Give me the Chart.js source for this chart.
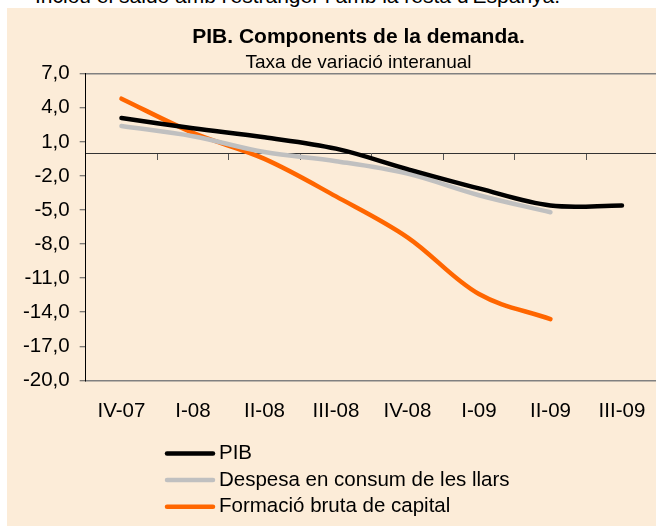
<!DOCTYPE html>
<html>
<head>
<meta charset="utf-8">
<script src="https://cdn.jsdelivr.net/npm/chart.js@4.4.1/dist/chart.umd.min.js"></script>
<style>
    html, body { margin: 0; padding: 0; width: 656px; height: 526px; overflow: hidden; background: #ffffff; }
    #nota { position: absolute; left: 35px; top: -16px; font: 21px "Liberation Sans", Arial, sans-serif; color: #000; white-space: nowrap; }
    #panel { position: absolute; left: 7px; top: 8px; width: 703px; height: 518px; background: #fcecd8; }
    #grafic { display: block; width: 703px; height: 518px; }
</style>
</head>
<body>
<div id="nota">Inclou el saldo amb l'estranger i amb la resta d'Espanya.</div>
<div id="panel"><canvas id="grafic" width="703" height="518"></canvas></div>
<script>
// Dades (taxa de variació interanual, %)
const trimestres = ['IV-07', 'I-08', 'II-08', 'III-08', 'IV-08', 'I-09', 'II-09', 'III-09'];
const pib = [3.1, 2.2, 1.4, 0.4, -1.4, -3.1, -4.6, -4.6];
const consumLlars = [2.4, 1.5, 0.1, -0.7, -1.8, -3.7, -5.2, null];
const formacioCapital = [4.8, 1.8, -0.5, -3.8, -7.4, -12.4, -14.6, null];

const FONT = '"Liberation Sans", Arial, sans-serif';

// --- Llegenda vertical (com a l'original) ---
const llegendaVertical = {
    id: 'llegendaVertical',
    afterDraw(chart) {
        const c = chart.ctx;
        const top = chart.chartArea.bottom + 73;
        c.save();
        c.font = `20.5px ${FONT}`;
        c.textBaseline = 'middle';
        c.fillStyle = '#000';
        chart.data.datasets.forEach((ds, i) => {
            const y = top + i * 26.7;
            c.beginPath();
            c.strokeStyle = ds.borderColor;
            c.lineWidth = 4.5;
            c.lineCap = 'round';
            c.moveTo(160, y);
            c.lineTo(206, y);
            c.stroke();
            c.fillText(ds.label, 212, y);
        });
        c.restore();
    }
};

const ctx = document.getElementById('grafic').getContext('2d');
const grafic = new Chart(ctx, {
    type: 'line',
    data: {
        labels: trimestres,
        datasets: [
            {
                label: 'PIB',
                data: pib,
                borderColor: '#000000',
                borderWidth: 4.5
            },
            {
                label: 'Despesa en consum de les llars',
                data: consumLlars,
                borderColor: '#c0c0c0',
                borderWidth: 4.5
            },
            {
                label: 'Formació bruta de capital',
                data: formacioCapital,
                borderColor: '#ff6600',
                borderWidth: 4.5
            }
        ]
    },
    options: {
        responsive: false,
        animation: false,
        layout: { padding: { top: 0, left: 0, right: 0, bottom: 83 } },
        elements: {
            point: { radius: 0 },
            line: { tension: 0.35, borderCapStyle: 'round', borderJoinStyle: 'round', fill: false }
        },
        plugins: {
            legend: { display: false },
            tooltip: { enabled: false },
            title: {
                display: true,
                text: 'PIB. Components de la demanda.',
                color: '#000',
                font: { family: FONT, size: 21, weight: 'bold' },
                padding: { top: 17, bottom: 0 }
            },
            subtitle: {
                display: true,
                text: 'Taxa de variació interanual',
                color: '#000',
                font: { family: FONT, size: 19, lineHeight: 1 },
                padding: { top: 3.5, bottom: 1 }
            }
        },
        scales: {
            x: {
                type: 'category',
                position: 'bottom',
                offset: true,
                grid: { display: false, drawTicks: false },
                border: { display: true, color: '#808080', width: 1.5 },
                ticks: { color: '#000', padding: 19, maxRotation: 0, font: { family: FONT, size: 20.5 } }
            },
            // eix a y = 0 amb marques cap avall
            x0: {
                type: 'category',
                axis: 'x',
                position: { y: 0 },
                offset: true,
                grid: { offset: true, drawOnChartArea: false, drawTicks: true, tickLength: 6, tickColor: '#555', tickWidth: 1 },
                border: { display: true, color: '#333', width: 1 },
                ticks: { display: false }
            },
            y: {
                min: -20,
                max: 7,
                afterFit(scale) { scale.width = 78.7; },
                grid: {
                    drawOnChartArea: true,
                    drawTicks: true,
                    tickLength: 6,
                    color: (c) => (c.tick && c.tick.value === 7 ? '#808080' : 'transparent'),
                    lineWidth: 1.5,
                    tickColor: '#555',
                    tickWidth: 1
                },
                border: { display: true, color: '#000', width: 1 },
                ticks: {
                    stepSize: 3,
                    color: '#000',
                    padding: 10,
                    font: { family: FONT, size: 20.5 },
                    callback: (v) => v.toFixed(1).replace('.', ',')
                }
            },
            // espai buit a la dreta (l'àrea del gràfic queda tallada com a l'original)
            yDreta: {
                type: 'linear',
                position: 'right',
                afterFit(scale) { scale.width = 52.3; },
                grid: { display: false, drawTicks: false },
                border: { display: false },
                ticks: { display: false }
            }
        }
    },
    plugins: [llegendaVertical]
});
</script>
</body>
</html>
